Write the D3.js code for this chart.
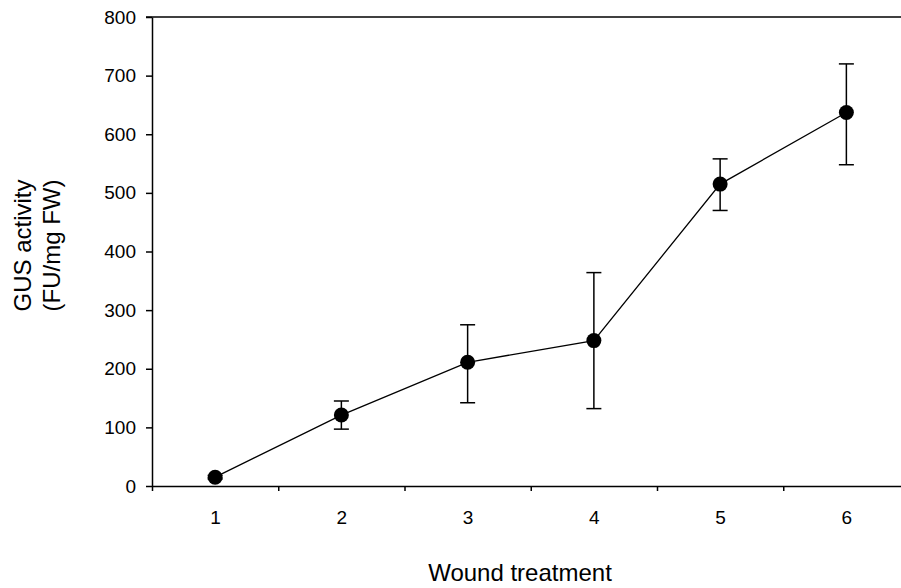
<!DOCTYPE html>
<html>
<head>
<meta charset="utf-8">
<script src="https://cdn.jsdelivr.net/npm/d3@7"></script>
<style>
  html, body { margin: 0; padding: 0; background: #fff; }
  svg { display: block; font-family: "Liberation Sans", Arial, sans-serif; }
</style>
</head>
<body>
<script>
const categories = [1, 2, 3, 4, 5, 6];
const means = [15, 121, 211, 248, 515, 637];
const lower = [12, 97, 142, 132, 470, 548];
const upper = [18, 145, 275, 364, 558, 720];
const yTicks = [0, 100, 200, 300, 400, 500, 600, 700, 800];
const xLabel = "Wound treatment";
const yLabelLines = ["GUS activity", "(FU/mg FW)"];

const W = 901, H = 588;
const svg = d3.select("body").append("svg").attr("width", W).attr("height", H);

const x = d3.scaleLinear().domain([0.5, 6.5]).range([152, 909.5]);
const y = d3.scaleLinear().domain([0, 800]).range([486, 17]);

// Y axis
const yAxis = svg.append("g").attr("transform", "translate(152,0)")
  .call(d3.axisLeft(y).tickValues(yTicks).tickSize(6).tickPadding(10).tickSizeOuter(0));
yAxis.selectAll("text").attr("font-size", 19).attr("fill", "#000").attr("font-family", "Liberation Sans, Arial, sans-serif");
yAxis.selectAll("line, path").attr("stroke", "#000").attr("stroke-width", 1.5);

// Top frame line
svg.append("line").attr("x1", 146).attr("x2", W).attr("y1", y(800)).attr("y2", y(800))
  .attr("stroke", "#000").attr("stroke-width", 1.5);

// X axis (boundary ticks)
const bounds = categories.slice(0, -1).map(c => c + 0.5);
const xAxis = svg.append("g").attr("transform", `translate(0,${y(0)})`)
  .call(d3.axisBottom(x).tickValues([0.5].concat(bounds)).tickSize(5).tickSizeOuter(0).tickFormat(""));
xAxis.selectAll("line, path").attr("stroke", "#000").attr("stroke-width", 1.5);

// X labels at category centers
const xLab = svg.append("g").attr("transform", `translate(0,${y(0)})`)
  .call(d3.axisBottom(x).tickValues(categories).tickSize(0).tickPadding(25).tickFormat(d3.format("d")));
xLab.select(".domain").remove();
xLab.selectAll("text").attr("font-size", 19).attr("fill", "#000").attr("font-family", "Liberation Sans, Arial, sans-serif");

// Error bars
const eb = svg.append("g").attr("stroke", "#000").attr("stroke-width", 1.5);
categories.forEach((c, i) => {
  eb.append("line").attr("x1", x(c)).attr("x2", x(c)).attr("y1", y(lower[i])).attr("y2", y(upper[i]));
  eb.append("line").attr("x1", x(c) - 7.5).attr("x2", x(c) + 7.5).attr("y1", y(lower[i])).attr("y2", y(lower[i]));
  eb.append("line").attr("x1", x(c) - 7.5).attr("x2", x(c) + 7.5).attr("y1", y(upper[i])).attr("y2", y(upper[i]));
});

// Line
const line = d3.line().x((d, i) => x(categories[i])).y(d => y(d));
svg.append("path").datum(means).attr("d", line).attr("fill", "none")
  .attr("stroke", "#000").attr("stroke-width", 1.3);

// Points
svg.append("g").selectAll("circle").data(means).join("circle")
  .attr("cx", (d, i) => x(categories[i])).attr("cy", d => y(d)).attr("r", 7.5).attr("fill", "#000");

// Axis titles
svg.append("text").attr("x", 520).attr("y", 581).attr("text-anchor", "middle")
  .attr("font-size", 24).attr("fill", "#000").text(xLabel);

const yl = svg.append("text").attr("transform", "translate(0,245.5) rotate(-90)")
  .attr("text-anchor", "middle").attr("font-size", 24).attr("fill", "#000");
yl.append("tspan").attr("x", 0).attr("y", 31).text(yLabelLines[0]);
yl.append("tspan").attr("x", 0).attr("y", 60).text(yLabelLines[1]);
</script>
</body>
</html>
